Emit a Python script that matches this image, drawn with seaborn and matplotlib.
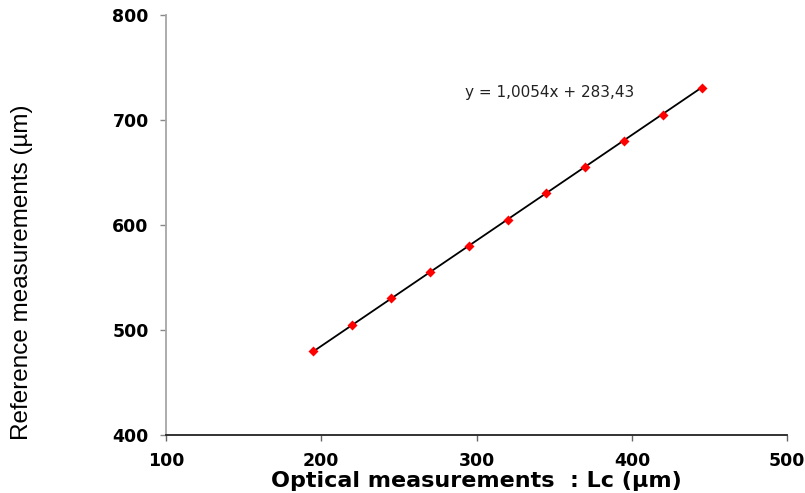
import numpy as np
import matplotlib
matplotlib.use("Agg")
import matplotlib.pyplot as plt
import seaborn as sns
import pandas as pd

# Calibration data: optical vs reference measurements (µm)
optical = [195, 220, 245, 270, 295, 320, 345, 370, 395, 420, 445]
reference = [480, 505, 530, 555, 580, 605, 630, 655, 680, 705, 730]
slope, intercept = 1.0054, 283.43
x_ticks = [100, 200, 300, 400, 500]
y_ticks = [400, 500, 600, 700, 800]

df = pd.DataFrame({"optical": optical, "reference": reference})

sns.set_style("white")
plt.rcParams["font.family"] = ["Liberation Sans", "DejaVu Sans"]

fig = plt.figure(figsize=(8.05, 4.93), dpi=100)
ax = fig.add_axes([0.206, 0.118, 0.772, 0.852])

# trend line
xl = np.array([min(optical), max(optical)])
sns.lineplot(x=xl, y=slope * xl + intercept, ax=ax, color="black", linewidth=1.3)
sns.scatterplot(data=df, x="optical", y="reference", ax=ax, marker="D", s=26,
                color="#ff0000", edgecolor="#ff0000", linewidth=0, zorder=3)

ax.set_xlim(100, 500)
ax.set_ylim(400, 800)
ax.set_xticks(x_ticks)
ax.set_yticks(y_ticks)
tick_font = dict(family="DejaVu Sans", fontsize=12.5, fontweight="bold", color="black")
ax.set_xticklabels([str(v) for v in x_ticks], **tick_font)
ax.set_yticklabels([str(v) for v in y_ticks], **tick_font)

for s in ["top", "right"]:
    ax.spines[s].set_visible(False)
ax.spines["left"].set_color("#a6a6a6")
ax.spines["left"].set_linewidth(1.3)
ax.spines["bottom"].set_color("#222222")
ax.spines["bottom"].set_linewidth(1.3)
ax.tick_params(axis="y", direction="out", length=4.3, width=1, color="#888888",
               left=True, pad=8)
ax.tick_params(axis="x", direction="out", length=4.3, width=1, color="#666666",
               bottom=True, pad=8)

ax.set_xlabel("Optical measurements  : Lc (µm)", family="DejaVu Sans",
              fontsize=16, fontweight="bold", color="black", labelpad=1)
ax.set_ylabel("")
fig.text(22 / 805, 1 - 272 / 493, "Reference measurements (µm)", rotation=90,
         ha="center", va="center", fontsize=17.5, color="black")

fig.text(550 / 805, 1 - 93 / 493, "y = 1,0054x + 283,43", family="DejaVu Sans",
         fontsize=11, color="#222222", ha="center", va="center")

fig.savefig("out.png", dpi=100)
